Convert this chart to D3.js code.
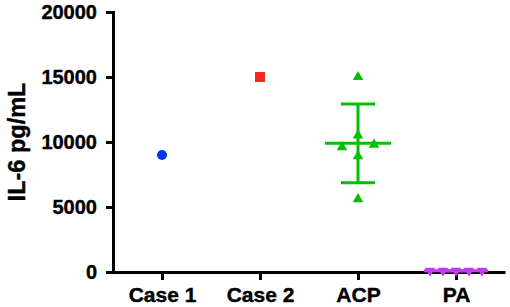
<!DOCTYPE html>
<html>
<head>
<meta charset="utf-8">
<script src="https://cdn.jsdelivr.net/npm/d3@7"></script>
<style>
  body { margin: 0; background: #fff; }
  text { font-family: "Liberation Sans", Arial, sans-serif; font-weight: bold; fill: #000; stroke: #000; stroke-width: 0.4px; }
</style>
</head>
<body>
<svg id="chart"></svg>
<script>
const groups = ["Case 1", "Case 2", "ACP", "PA"];
const case1Values = [9000];
const case2Values = [15000];
const acpValues = [15000, 10500, 9600, 9800, 8900, 5600];
const acpOffsets = [0, 0, -16, 16, 0, 0];
const paValues = [100, 100, 100, 100, 100];
const paOffsets = [-26, -13, 0, 13, 26];
const yTicks = [0, 5000, 10000, 15000, 20000];

const W = 510, H = 307;
const margin = { top: 12, right: 5, bottom: 35, left: 113 };

const svg = d3.select("#chart").attr("width", W).attr("height", H);

const x = d3.scalePoint()
    .domain(groups)
    .range([margin.left, W - margin.right])
    .padding(0.5);

const y = d3.scaleLinear()
    .domain([0, 20000])
    .range([H - margin.bottom, margin.top]);

// y axis
const yAxis = svg.append("g")
    .attr("transform", `translate(${margin.left},0)`)
    .call(d3.axisLeft(y).tickValues(yTicks).tickSize(7).tickPadding(9).tickFormat(d3.format("d")));
yAxis.select(".domain").attr("stroke-width", 3);
yAxis.selectAll(".tick line").attr("stroke-width", 3);
yAxis.selectAll("text").style("font-size", "20px");

// x axis
const xAxis = svg.append("g")
    .attr("transform", `translate(0,${y(0)})`)
    .call(d3.axisBottom(x).tickSize(8).tickPadding(7).tickSizeOuter(0));
xAxis.select(".domain").attr("stroke-width", 3);
xAxis.selectAll(".tick line").attr("stroke-width", 3);
xAxis.selectAll("text").style("font-size", "21px");

svg.append("text")
    .attr("transform", `translate(25,${y(10000)}) rotate(-90)`)
    .attr("text-anchor", "middle")
    .style("font-size", "23.5px")
    .text("IL-6 pg/mL");

function errorBars(vals, color, cx, meanHalf, capHalf) {
    const m = d3.mean(vals), sd = d3.deviation(vals);
    const g = svg.append("g").attr("stroke", color).attr("stroke-width", 3);
    g.append("line").attr("x1", cx).attr("x2", cx).attr("y1", y(m + sd)).attr("y2", y(m - sd));
    g.append("line").attr("x1", cx - meanHalf).attr("x2", cx + meanHalf).attr("y1", y(m)).attr("y2", y(m));
    [m + sd, m - sd].forEach(v => {
        g.append("line").attr("x1", cx - capHalf).attr("x2", cx + capHalf).attr("y1", y(v)).attr("y2", y(v));
    });
}

errorBars(acpValues, "#00c000", x("ACP"), 33, 17);
errorBars(paValues, "#c23cf0", x("PA"), 32, 16);

// Case 1
svg.selectAll(".c1").data(case1Values).enter().append("circle")
    .attr("cx", x("Case 1")).attr("cy", d => y(d)).attr("r", 5).attr("fill", "#0a32f5");

// Case 2
svg.selectAll(".c2").data(case2Values).enter().append("rect")
    .attr("x", x("Case 2") - 5).attr("y", d => y(d) - 5)
    .attr("width", 10).attr("height", 10).attr("fill", "#f5281e");

const tri = d3.symbol().type(d3.symbolTriangle).size(48);

svg.selectAll(".acp").data(acpValues).enter().append("path")
    .attr("d", tri)
    .attr("transform", (d, i) => `translate(${x("ACP") + acpOffsets[i]},${y(d)})`)
    .attr("fill", "#00c000");

svg.selectAll(".pa").data(paValues).enter().append("path")
    .attr("d", tri)
    .attr("transform", (d, i) => `translate(${x("PA") + paOffsets[i]},${y(d)}) rotate(180)`)
    .attr("fill", "#c23cf0");
</script>
</body>
</html>
